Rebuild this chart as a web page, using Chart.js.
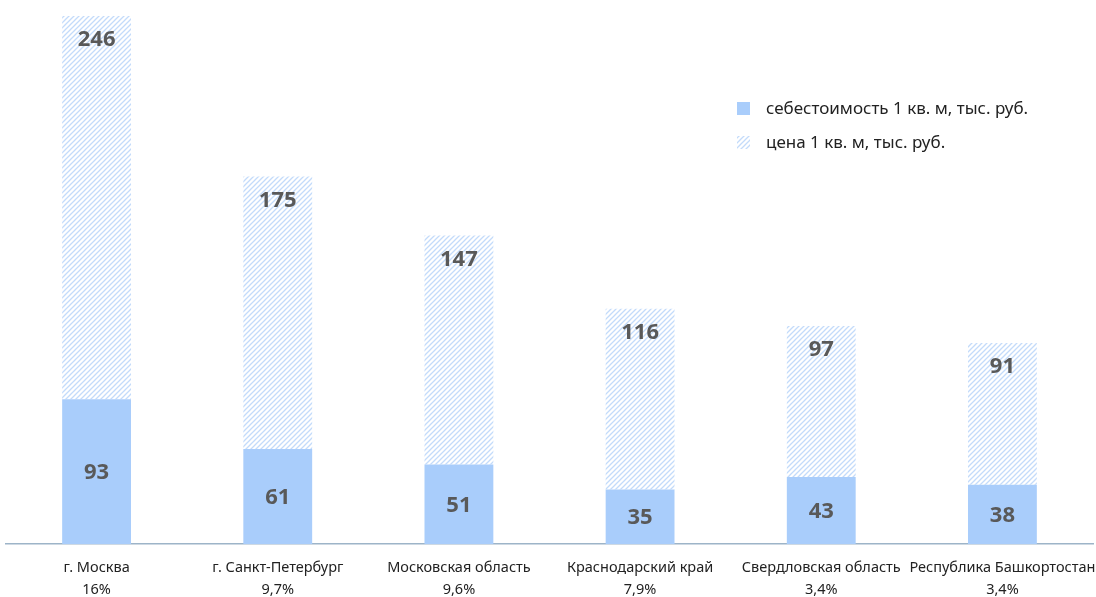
<!DOCTYPE html>
<html>
<head>
<meta charset="utf-8">
<script src="https://cdn.jsdelivr.net/npm/chart.js@4.4.0/dist/chart.umd.min.js"></script>
<style>
    html, body { margin: 0; padding: 0; background: #fff; }
    #wrap { width: 1096px; height: 597px; }
</style>
</head>
<body>
<div id="wrap"><canvas id="myChart"></canvas></div>
<script>
const regions = ['г. Москва', 'г. Санкт-Петербург', 'Московская область', 'Краснодарский край', 'Свердловская область', 'Республика Башкортостан'];
const shares = ['16%', '9,7%', '9,6%', '7,9%', '3,4%', '3,4%'];
const costValues = [93, 61, 51, 35, 43, 38];
const priceValues = [246, 175, 147, 116, 97, 91];
const seriesNames = ['себестоимость 1 кв. м, тыс. руб.', 'цена 1 кв. м, тыс. руб.'];

const FONT = '"Noto Sans", Lato, sans-serif';
const solidColor = '#a9cdfb';

// diagonal hatching for the price bars
const makeHatch = function () {
    const c = document.createElement('canvas');
    c.width = 5;
    c.height = 5;
    const g = c.getContext('2d');
    g.fillStyle = '#ffffff';
    g.fillRect(0, 0, 5, 5);
    g.strokeStyle = '#c3dbfa';
    g.lineWidth = 1.3;
    g.beginPath();
    g.moveTo(0, 5); g.lineTo(5, 0);
    g.moveTo(-2.5, 2.5); g.lineTo(2.5, -2.5);
    g.moveTo(2.5, 7.5); g.lineTo(7.5, 2.5);
    g.stroke();
    return g.createPattern(c, 'repeat');
};
const hatch = makeHatch();

const barLabels = {
    id: 'barLabels',
    afterDatasetsDraw(chart) {
        const ctx = chart.ctx;
        ctx.save();
        ctx.font = 'bold 22px ' + FONT;
        ctx.fillStyle = '#595959';
        ctx.textAlign = 'center';
        ctx.textBaseline = 'middle';
        chart.data.datasets.forEach(function (ds, di) {
            const meta = chart.getDatasetMeta(di);
            meta.data.forEach(function (bar, i) {
                let y;
                if (di === 0) y = (bar.y + bar.base) / 2 + 1;
                else y = bar.y + 24;
                ctx.fillText(ds.data[i], bar.x, y);
            });
        });
        ctx.restore();
    }
};

const cornerLegend = {
    id: 'cornerLegend',
    afterDraw(chart) {
        const ctx = chart.ctx;
        ctx.save();
        ctx.font = '17px ' + FONT;
        ctx.textBaseline = 'middle';
        ctx.textAlign = 'left';
        chart.data.datasets.forEach(function (ds, i) {
            const y = 108 + i * 34;
            ctx.fillStyle = ds.backgroundColor;
            ctx.fillRect(737, y - 6, 13, 13);
            ctx.fillStyle = '#222222';
            ctx.fillText(ds.label, 766, y + 1);
        });
        ctx.restore();
    }
};

new Chart(document.getElementById('myChart'), {
    type: 'bar',
    data: {
        labels: regions.map(function (r, i) { return [r, shares[i]]; }),
        datasets: [
            { label: seriesNames[0], data: costValues, backgroundColor: solidColor },
            { label: seriesNames[1], data: priceValues, backgroundColor: hatch }
        ]
    },
    options: {
        responsive: true,
        maintainAspectRatio: false,
        animation: false,
        layout: { padding: { left: 6, right: 3, top: 16, bottom: 0 } },
        datasets: { bar: { categoryPercentage: 1, barPercentage: 0.38 } },
        plugins: { legend: { display: false }, tooltip: { enabled: false } },
        scales: {
            x: {
                stacked: true,
                grid: { display: false },
                border: { display: true, color: '#9db4c8', width: 1.5 },
                ticks: {
                    color: '#222222',
                    font: { family: FONT, size: 14.5, lineHeight: 1.5 },
                    padding: 5,
                    maxRotation: 0,
                    autoSkip: false
                },
                afterFit: function (s) {
                    s.height = 53;
                    s.paddingLeft = 0;
                    s.paddingRight = 0;
                }
            },
            y: {
                stacked: true,
                display: false,
                min: 0,
                max: 339
            }
        }
    },
    plugins: [barLabels, cornerLegend]
});
</script>
</body>
</html>
